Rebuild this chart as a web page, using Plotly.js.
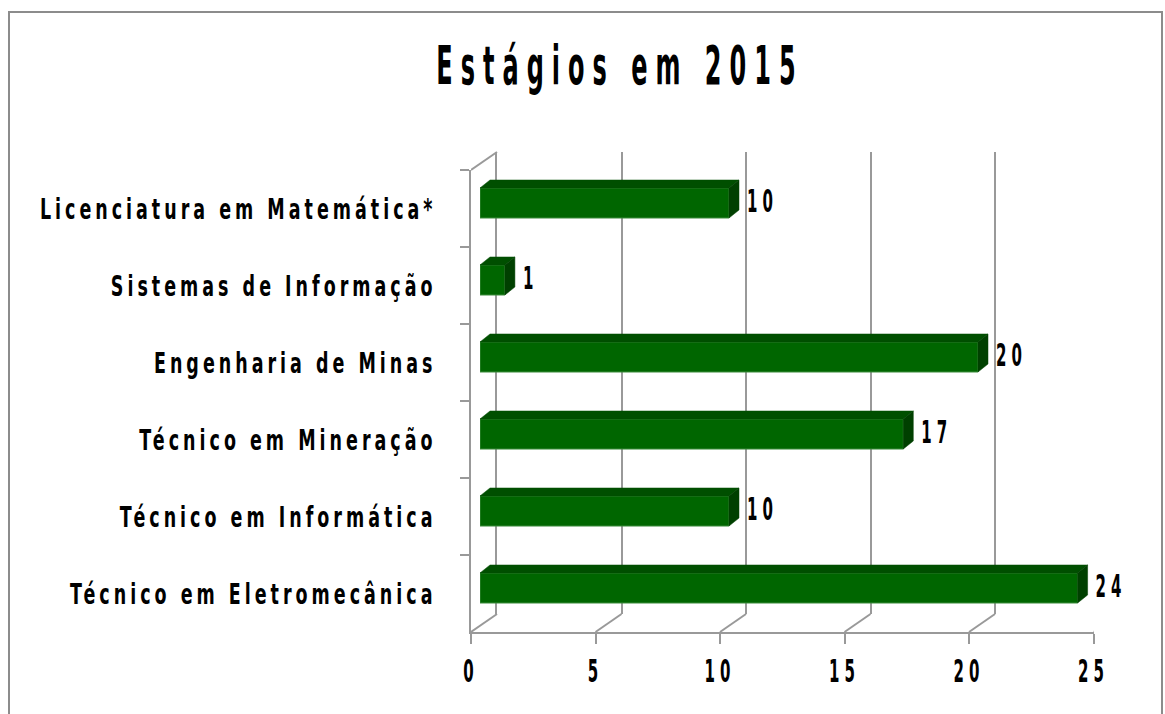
<!DOCTYPE html>
<html>
<head>
<meta charset="utf-8">
<script src="https://cdn.plot.ly/plotly-3.0.1.min.js"></script>
<style>
  html, body { margin: 0; padding: 0; background: #fff; }
  #chart { width: 1165px; height: 714px; }
  .ytick text { letter-spacing: 4px; }
  .xtick text, .textpoint text { letter-spacing: 5px; }
  .gtitle { letter-spacing: 8px; }
</style>
</head>
<body>
<div id="chart"></div>
<script>
// ---- data ----
const categories = [
  "Licenciatura em Matemática*",
  "Sistemas de Informação",
  "Engenharia de Minas",
  "Técnico em Mineração",
  "Técnico em Informática",
  "Técnico em Eletromecânica"
];
const values = [10, 1, 20, 17, 10, 24];
const xTicks = [0, 5, 10, 15, 20, 25];
const titleText = "Estágios em 2015";

// ---- geometry (pixels) ----
const W = 1165, H = 714;
const s = 24.9;              // px per unit
const xMax = 25;
const fx0 = 471;             // front plane x of 0
const fyTop = 170, fyBot = 632;
const depthX = 26, depthY = 18;        // back wall offset
const barShiftX = 9, barShiftY = 5.5;  // bar front face offset
const barDX = 10, barDY = 8;           // bar depth
const barWidth = 0.39;
const labelGap = 8;                    // px between bar side and value label
const nCat = categories.length;
const catPx = (fyBot - fyTop) / nCat;

const px = v => v / W;
const py = v => 1 - v / H;

const fontFam = "'DejaVu Sans', 'Liberation Sans', sans-serif";
const GRAY = '#999999';

const xDom = [px(fx0), px(fx0 + xMax * s)];
const yDom = [py(fyBot), py(fyTop)];
const shiftX = (d, dx) => [d[0] + dx / W, d[1] + dx / W];
const shiftY = (d, dy) => [d[0] + dy / H, d[1] + dy / H];

const idx = categories.map((_, i) => i);
const dxU = barDX / s;
const dyU = barDY / catPx;

const traces = [];
// invisible trace for the front category axis
traces.push({
  type: 'scatter', mode: 'markers', x: values.map(() => 0), y: categories,
  marker: { opacity: 0 }, hoverinfo: 'skip', showlegend: false, xaxis: 'x', yaxis: 'y'
});
// invisible trace for back wall axes
traces.push({
  type: 'scatter', mode: 'markers', x: [0], y: [0],
  marker: { opacity: 0 }, hoverinfo: 'skip', showlegend: false, xaxis: 'x2', yaxis: 'y2'
});
// bar front faces
traces.push({
  type: 'bar', orientation: 'h', x: values, y: idx, width: barWidth,
  marker: { color: '#006600', line: { color: '#3c8c3c', width: 1 } },
  hoverinfo: 'skip', showlegend: false, xaxis: 'x3', yaxis: 'y3'
});
// bar top and side faces
values.forEach((v, i) => {
  const yt = i - barWidth / 2, yb = i + barWidth / 2;
  traces.push({
    type: 'scatter', mode: 'lines', fill: 'toself', fillcolor: '#004f00',
    line: { color: '#004f00', width: 0.5 },
    x: [0, v, v + dxU, dxU, 0], y: [yt, yt, yt - dyU, yt - dyU, yt],
    hoverinfo: 'skip', showlegend: false, xaxis: 'x3', yaxis: 'y3'
  });
  traces.push({
    type: 'scatter', mode: 'lines', fill: 'toself', fillcolor: '#004000',
    line: { color: '#004000', width: 0.5 },
    x: [v, v + dxU, v + dxU, v, v], y: [yt, yt - dyU, yb - dyU, yb, yt],
    hoverinfo: 'skip', showlegend: false, xaxis: 'x3', yaxis: 'y3'
  });
});
// value labels
traces.push({
  type: 'scatter', mode: 'text', x: values.map(v => v + dxU + labelGap / s), y: idx,
  text: values.map(String), textposition: 'middle right',
  textfont: { family: fontFam, size: 15, weight: 'bold', color: '#000' },
  hoverinfo: 'skip', showlegend: false, xaxis: 'x3', yaxis: 'y3', cliponaxis: false
});

const shapes = [];
xTicks.forEach(t => {
  shapes.push({
    type: 'line', xref: 'x', yref: 'paper', xsizemode: 'pixel', ysizemode: 'pixel',
    xanchor: t, yanchor: py(fyBot), x0: 0, x1: depthX, y0: 0, y1: depthY,
    line: { color: GRAY, width: 2 }, layer: 'below'
  });
});
shapes.push({
  type: 'line', xref: 'x', yref: 'paper', xsizemode: 'pixel', ysizemode: 'pixel',
  xanchor: 0, yanchor: py(fyTop), x0: 0, x1: depthX, y0: 0, y1: depthY,
  line: { color: GRAY, width: 2 }, layer: 'below'
});
// outer frame
shapes.push({
  type: 'rect', xref: 'paper', yref: 'paper',
  x0: px(9), x1: px(1162), y0: -0.05, y1: py(12),
  line: { color: '#8c8c8c', width: 2 }, fillcolor: 'rgba(0,0,0,0)', layer: 'below'
});

const catFont = { family: fontFam, size: 17.5, weight: 'bold', color: '#000' };
const numFont = { family: fontFam, size: 15, weight: 'bold', color: '#000' };

const layout = {
  width: W, height: H,
  margin: { l: 0, r: 0, t: 0, b: 0 },
  paper_bgcolor: '#fff', plot_bgcolor: 'rgba(0,0,0,0)',
  showlegend: false,
  title: {
    text: titleText, xref: 'paper', yref: 'paper',
    x: 620 / W, xanchor: 'center', y: py(66), yanchor: 'middle',
    font: { family: fontFam, size: 24, weight: 'bold', color: '#000' }
  },
  xaxis: {
    domain: xDom, range: [0, xMax], tickvals: xTicks, anchor: 'y',
    ticks: 'outside', ticklen: 10, tickwidth: 2, tickcolor: GRAY,
    showline: true, linecolor: GRAY, linewidth: 2,
    showgrid: false, zeroline: false, tickfont: numFont, ticklabelstandoff: 15,
    fixedrange: true
  },
  yaxis: {
    domain: yDom, type: 'category', categoryorder: 'array', categoryarray: categories,
    range: [nCat - 0.5, -0.5], autorange: false, anchor: 'x',
    tickson: 'boundaries', ticks: 'outside', ticklen: 9, tickwidth: 2, tickcolor: GRAY,
    showline: true, linecolor: GRAY, linewidth: 2,
    showgrid: false, zeroline: false, tickfont: catFont, ticklabelstandoff: 29,
    fixedrange: true
  },
  xaxis2: {
    domain: shiftX(xDom, depthX), range: [0, xMax], tickvals: xTicks, anchor: 'y2',
    showgrid: true, gridcolor: GRAY, gridwidth: 2, showticklabels: false, ticks: '',
    zeroline: false, showline: false, fixedrange: true
  },
  yaxis2: {
    domain: shiftY(yDom, depthY), range: [0, 1], anchor: 'x2',
    showgrid: false, showticklabels: false, ticks: '', zeroline: false,
    showline: true, linecolor: GRAY, linewidth: 2, fixedrange: true
  },
  xaxis3: {
    domain: shiftX(xDom, barShiftX), range: [0, xMax], anchor: 'y3', visible: false, fixedrange: true
  },
  yaxis3: {
    domain: shiftY(yDom, barShiftY), range: [nCat - 0.5, -0.5], anchor: 'x3',
    visible: false, fixedrange: true
  },
  shapes: shapes
};

// tall, narrow lettering like the reference: stretch text vertically about its centre
function stretch(selector, k) {
  document.querySelectorAll(selector).forEach(t => {
    const bb = t.getBBox();
    const cy = bb.y + bb.height / 2;
    const orig = t.getAttribute('transform') || '';
    t.setAttribute('transform', orig + ' translate(0,' + cy + ') scale(1,' + k + ') translate(0,' + (-cy) + ')');
  });
}

Plotly.newPlot('chart', traces, layout, { displayModeBar: false, staticPlot: true }).then(() => {
  stretch('.ytick text', 1.65);
  stretch('.xtick text', 2.1);
  stretch('.textpoint text', 2.1);
  stretch('.gtitle', 2.2);
});
</script>
</body>
</html>
